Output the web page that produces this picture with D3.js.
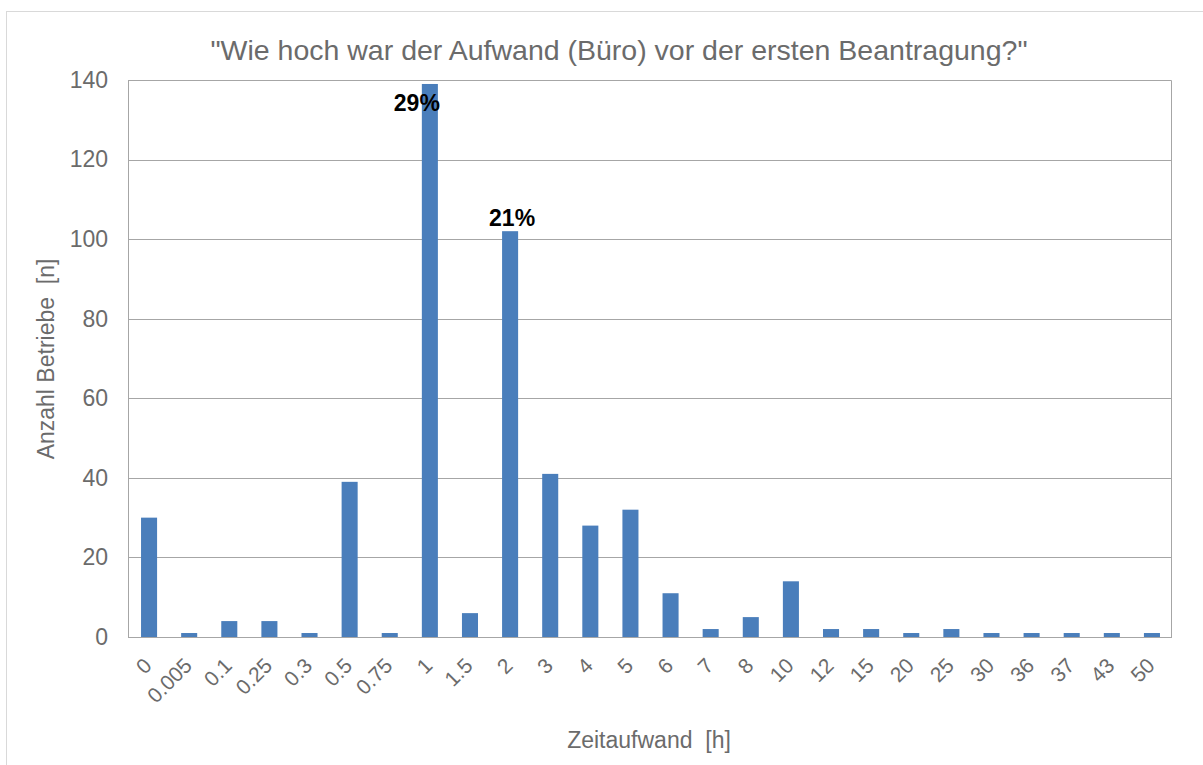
<!DOCTYPE html>
<html><head><meta charset="utf-8">
<script src="https://cdn.jsdelivr.net/npm/d3@7"></script>
<style>body{margin:0;background:#fff;}svg{display:block;font-family:"Liberation Sans",Arial,sans-serif;}text{white-space:pre;}</style>
</head><body><svg id="c" width="1203" height="765"></svg>
<script>
const categories = ["0","0.005","0.1","0.25","0.3","0.5","0.75","1","1.5","2","3","4","5","6","7","8","10","12","15","20","25","30","36","37","43","50"];
const counts = [30,1,4,4,1,39,1,139,6,102,41,28,32,11,2,5,14,2,2,1,2,1,1,1,1,1];
const yTicks = [0,20,40,60,80,100,120,140];
const annotations = [{cat:"1", text:"29%"},{cat:"2", text:"21%"}];
const title = "\"Wie hoch war der Aufwand (Büro) vor der ersten Beantragung?\"";

const svg = d3.select("#c");
const m = {left:128, right:1171, top:80, bottom:637};
const grey = "#6b6b6b";
svg.append("rect").attr("x",6.5).attr("y",11.5).attr("width",1203).attr("height",770)
  .attr("fill","none").attr("stroke","#d9d9d9");
const x = d3.scaleBand().domain(categories).range([m.left+1, m.right+1]).paddingInner(0.6).paddingOuter(0.3);
const y = d3.scaleLinear().domain([0,140]).range([m.bottom, m.top]);

// gridlines
svg.append("g").selectAll("line").data(yTicks.filter(d=>d>0)).join("line")
  .attr("x1",m.left).attr("x2",m.right).attr("y1",d=>Math.round(y(d))+0.5).attr("y2",d=>Math.round(y(d))+0.5)
  .attr("stroke","#a6a6a6").attr("stroke-width",1);
// plot frame
svg.append("path").attr("d",`M${m.left+0.5},${m.bottom}V${m.top+0.5}H${m.right+0.5}V${m.bottom}`)
  .attr("fill","none").attr("stroke","#a6a6a6");
// bars
svg.append("g").selectAll("rect").data(categories).join("rect")
  .attr("x",d=>x(d)).attr("width",x.bandwidth())
  .attr("y",(d,i)=>y(counts[i])).attr("height",(d,i)=>y(0)-y(counts[i]))
  .attr("fill","#4a7ebb");
// x axis line
svg.append("line").attr("x1",m.left).attr("x2",m.right+1).attr("y1",m.bottom+0.5).attr("y2",m.bottom+0.5)
  .attr("stroke","#a6a6a6");
// y tick labels
const ya = d3.axisLeft(y).tickValues(yTicks).tickSize(0).tickPadding(20);
const gy = svg.append("g").attr("transform",`translate(${m.left},0)`).call(ya);
gy.select(".domain").remove();
gy.selectAll("text").attr("fill",grey).style("font-size","23px").style("font-family","Liberation Sans, Arial, sans-serif");
// x tick labels
const xa = d3.axisBottom(x).tickSize(0).tickPadding(0);
const gx = svg.append("g").attr("transform",`translate(0,${m.bottom})`).call(xa);
gx.select(".domain").remove();
gx.selectAll("text").attr("fill",grey).style("font-size","21px").style("font-family","Liberation Sans, Arial, sans-serif")
  .attr("text-anchor","end").attr("dy",null).attr("y",0)
  .attr("transform","translate(4,30) rotate(-45)");
// annotations
svg.append("g").selectAll("text").data(annotations).join("text")
  .attr("x",(d,i)=> x(d.cat)+x.bandwidth()/2 + (i===0?-13:2))
  .attr("y",d=> y(counts[categories.indexOf(d.cat)]) + (d.cat==="1"?27:-5))
  .attr("text-anchor","middle").attr("font-weight","bold").attr("font-size","23px").attr("fill","#000")
  .text(d=>d.text);
// title
svg.append("text").attr("x",619).attr("y",60).attr("text-anchor","middle").attr("fill",grey)
  .attr("font-size","28.5px").text(title);
svg.append("text").attr("transform","translate(54,359) rotate(-90)").attr("text-anchor","middle")
  .attr("fill",grey).attr("font-size","23px").text("Anzahl Betriebe  [n]");
svg.append("text").attr("x",649).attr("y",748).attr("text-anchor","middle")
  .attr("fill",grey).attr("font-size","23px").text("Zeitaufwand  [h]");
</script></body></html>
